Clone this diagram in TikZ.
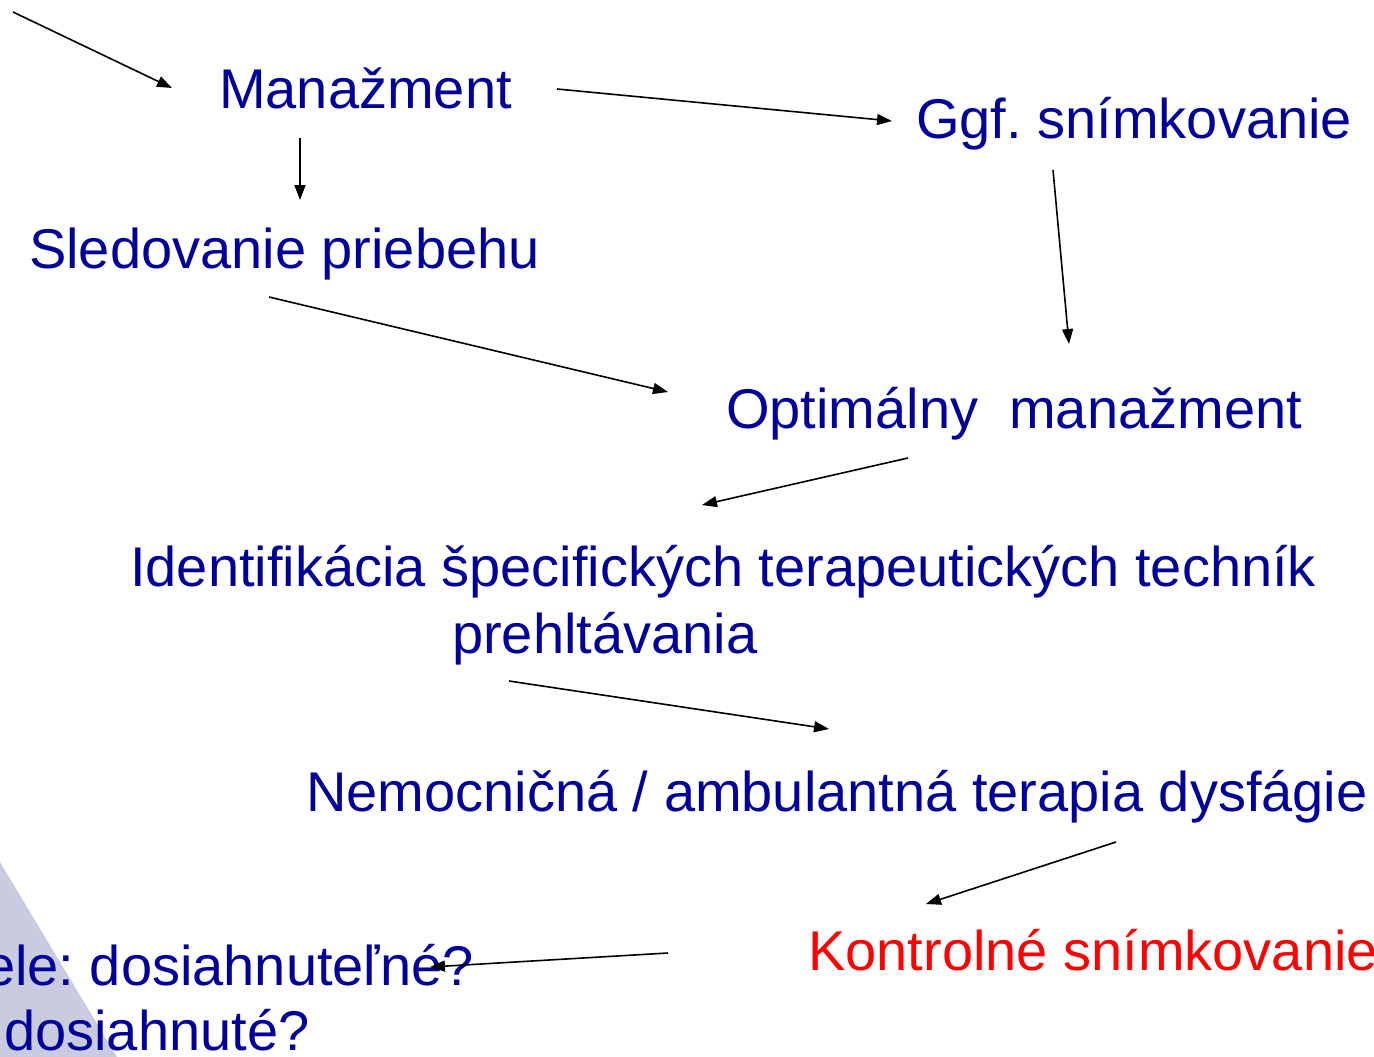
\documentclass[tikz,border=0pt]{standalone}
\usepackage{fontspec}
\setmainfont{Liberation Sans}
\usetikzlibrary{arrows.meta}
\definecolor{txtblue}{HTML}{000099}
\definecolor{txtred}{HTML}{FF0000}
\definecolor{wedge}{HTML}{C9CCE1}
\frenchspacing
\begin{document}
\begin{tikzpicture}[x=1pt,y=-1pt,
  lbl/.style={anchor=base west,inner sep=0pt,text=txtblue,font=\fontsize{56}{66}\selectfont},
  conn/.style={draw=black,line width=1.6pt,-{Triangle[length=15pt,width=11pt]}}]
\useasboundingbox (0,0) rectangle (1374,1057);
\fill[wedge] (0,862) -- (117,1057) -- (0,1057) -- cycle;
\node[lbl] (man) at (219,108) {Manažment};
\node[lbl] (ggf) at (916,139) {Ggf. snímkovanie};
\node[lbl] (sled) at (29,268) {Sledovanie priebehu};
\node[lbl] (opt) at (726,428) {Optimálny\ \ manažment};
\node[lbl] (ident) at (130,586) {Identifikácia špecifických terapeutických techník};
\node[lbl] (preh) at (452,653) {prehltávania};
\node[lbl] (nem) at (306,811) {Nemocničná / ambulantná terapia dysfágie};
\node[lbl,text=txtred] (kont) at (808,970) {Kontrolné snímkovanie};
\node[lbl] (ciele) at (-16,985) {ele: dosiahnuteľné?};
\node[lbl] (dos) at (4,1050) {dosiahnuté?};
\coordinate (a0) at (13,12);   \coordinate (a1) at (172,88);
\coordinate (b0) at (557,89);  \coordinate (b1) at (892,121);
\coordinate (c0) at (300,138); \coordinate (c1) at (300,200);
\coordinate (d0) at (1053,170);\coordinate (d1) at (1069,344);
\coordinate (e0) at (269,297); \coordinate (e1) at (668,392);
\coordinate (f0) at (908,458); \coordinate (f1) at (702,505);
\coordinate (g0) at (509,681); \coordinate (g1) at (829,729);
\coordinate (h0) at (1116,842);\coordinate (h1) at (926,904);
\coordinate (i0) at (668,953); \coordinate (i1) at (430,967);
\draw[conn] (a0) -- (a1);
\draw[conn] (b0) -- (b1);
\draw[conn] (c0) -- (c1);
\draw[conn] (d0) -- (d1);
\draw[conn] (e0) -- (e1);
\draw[conn] (f0) -- (f1);
\draw[conn] (g0) -- (g1);
\draw[conn] (h0) -- (h1);
\draw[conn] (i0) -- (i1);
\end{tikzpicture}
\end{document}
